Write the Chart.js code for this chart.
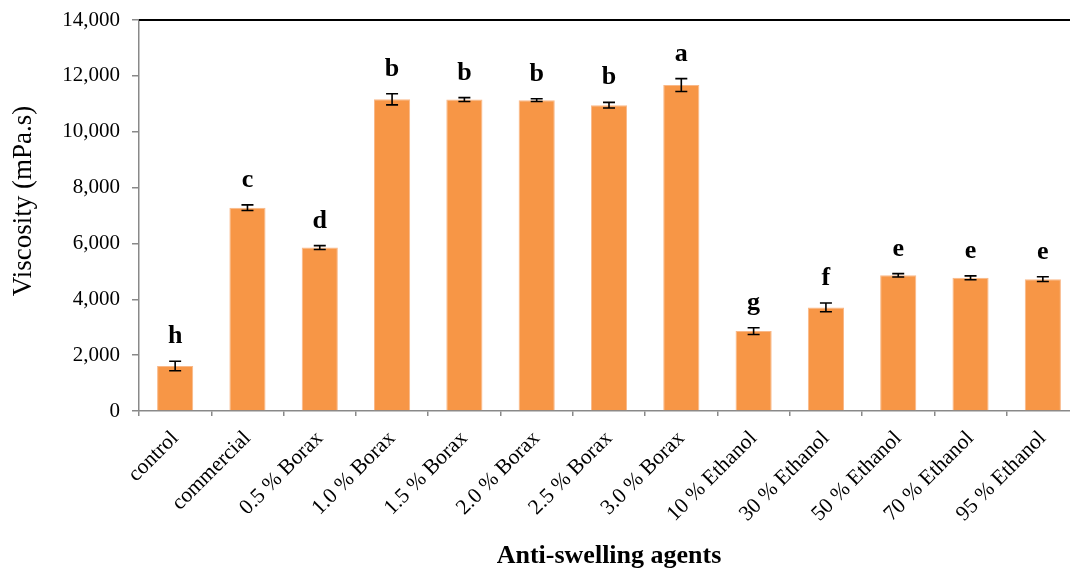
<!DOCTYPE html>
<html>
<head>
<meta charset="utf-8">
<script src="https://cdn.jsdelivr.net/npm/chart.js@4/dist/chart.umd.min.js"></script>
<style>
  html, body { margin: 0; padding: 0; background: #fff; overflow: hidden; }
  #wrap { width: 1079px; height: 574px; }
</style>
</head>
<body>
<div id="wrap"><canvas id="chart" width="1079" height="574"></canvas></div>
<script>
// Anti-swelling agents and measured viscosity (mPa.s)
const categories = ['control', 'commercial', '0.5 % Borax', '1.0 % Borax', '1.5 % Borax', '2.0 % Borax',
  '2.5 % Borax', '3.0 % Borax', '10 % Ethanol', '30 % Ethanol', '50 % Ethanol', '70 % Ethanol', '95 % Ethanol'];
const viscosity = [1610, 7280, 5850, 11160, 11150, 11130, 10950, 11670, 2860, 3710, 4860, 4770, 4720];
const stdDev = [170, 100, 70, 200, 70, 50, 100, 230, 120, 155, 60, 70, 85];
const groupLetters = ['h', 'c', 'd', 'b', 'b', 'b', 'b', 'a', 'g', 'f', 'e', 'e', 'e'];
const yTicks = [0, 2000, 4000, 6000, 8000, 10000, 12000, 14000];
const yTitle = 'Viscosity (mPa.s)';

const SERIF = '"Liberation Serif", "Times New Roman", serif';

// Error bars, significance letters, y-axis title and the top frame line
const annotations = {
  id: 'annotations',
  afterDatasetsDraw(chart) {
    const ctx = chart.ctx;
    const y = chart.scales.y;
    const meta = chart.getDatasetMeta(0);
    ctx.save();
    meta.data.forEach((bar, i) => {
      const x = bar.x;
      const yHi = y.getPixelForValue(viscosity[i] + stdDev[i]);
      const yLo = y.getPixelForValue(viscosity[i] - stdDev[i]);
      ctx.strokeStyle = '#000';
      ctx.lineWidth = 1.6;
      ctx.beginPath();
      ctx.moveTo(x, yHi); ctx.lineTo(x, yLo);
      ctx.moveTo(x - 6, yHi); ctx.lineTo(x + 6, yHi);
      ctx.moveTo(x - 6, yLo); ctx.lineTo(x + 6, yLo);
      ctx.stroke();
      ctx.fillStyle = '#000';
      ctx.font = 'bold 26px ' + SERIF;
      ctx.textAlign = 'center';
      ctx.textBaseline = 'alphabetic';
      ctx.fillText(groupLetters[i], x, yHi - 18);
    });

    // y-axis title, set a little above the axis midpoint
    ctx.save();
    ctx.translate(24, 201);
    ctx.rotate(-Math.PI / 2);
    ctx.font = '27px ' + SERIF;
    ctx.fillStyle = '#000';
    ctx.textAlign = 'center';
    ctx.textBaseline = 'middle';
    ctx.fillText(yTitle, 0, 0);
    ctx.restore();

    const area = chart.chartArea;
    ctx.strokeStyle = '#000';
    ctx.lineWidth = 2;
    ctx.beginPath();
    ctx.moveTo(area.left, area.top);
    ctx.lineTo(area.right + 10, area.top);
    ctx.stroke();
    ctx.restore();
  }
};

new Chart(document.getElementById('chart'), {
  type: 'bar',
  data: {
    labels: categories,
    datasets: [{
      data: viscosity,
      backgroundColor: '#F79646',
      borderColor: '#F9B888',
      borderWidth: 1,
      categoryPercentage: 1,
      barPercentage: 0.5
    }]
  },
  options: {
    responsive: false,
    animation: false,
    devicePixelRatio: 1,
    layout: { padding: { top: 20, right: 0, left: 0, bottom: 0 } },
    plugins: { legend: { display: false }, tooltip: { enabled: false } },
    scales: {
      x: {
        offset: true,
        grid: { display: true, drawOnChartArea: false, offset: true, color: '#898989', tickLength: 5, lineWidth: 1.5 },
        border: { display: true, color: '#898989', width: 1.5 },
        ticks: {
          color: '#000',
          font: { family: SERIF, size: 21.5 },
          minRotation: 45, maxRotation: 45, autoSkip: false, padding: 10
        },
        title: {
          display: true,
          text: 'Anti-swelling agents',
          color: '#000',
          font: { family: SERIF, size: 26, weight: 'bold' },
          padding: { top: 0, bottom: 2 }
        },
        afterFit(scale) { scale.height = 163; }
      },
      y: {
        min: 0, max: 14000,
        afterBuildTicks(scale) { scale.ticks = yTicks.map(v => ({ value: v })); },
        grid: { display: true, drawOnChartArea: false, color: '#898989', tickLength: 7, lineWidth: 1.5 },
        border: { display: true, color: '#898989', width: 1.5 },
        ticks: {
          color: '#000',
          font: { family: SERIF, size: 21 },
          padding: 12,
          callback: v => v.toLocaleString('en-US')
        },
        title: { display: false },
        afterFit(scale) {
          scale.width = 139;
          scale.paddingTop = 0;
          scale.paddingBottom = 0;
        }
      }
    }
  },
  plugins: [annotations]
});
</script>
</body>
</html>
